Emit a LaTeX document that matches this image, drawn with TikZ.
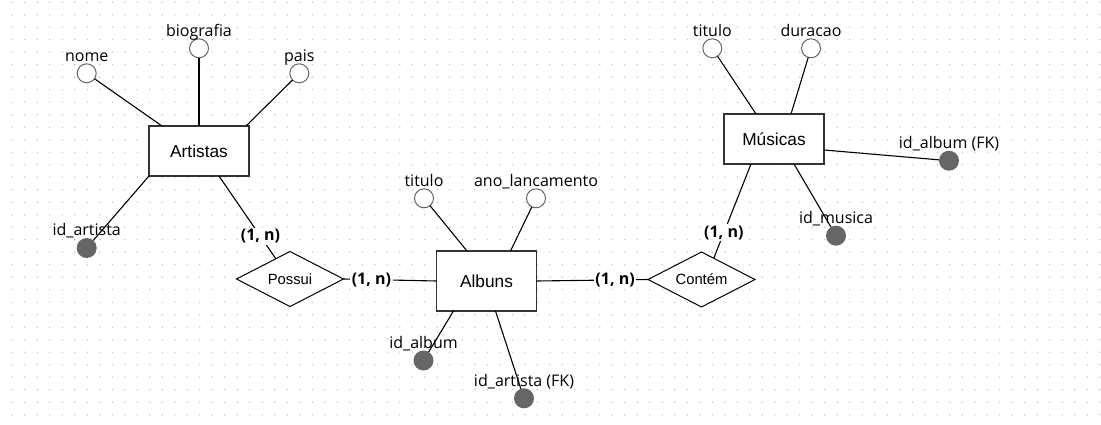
\documentclass[tikz,border=0pt]{standalone}
\usepackage{fontspec}
\usetikzlibrary{shapes.geometric}
\newfontfamily\attrfam{Open Sans}
\newfontfamily\entfam{Liberation Sans}
\newcommand{\attrfont}{\attrfam\fontsize{16}{19}\selectfont}
\newcommand{\cardfont}{\attrfam\bfseries\fontsize{16}{19}\selectfont}
\newcommand{\entfont}{\entfam\fontsize{17.3}{20}\selectfont}
\newcommand{\relfont}{\entfam\fontsize{14.8}{18}\selectfont}
\definecolor{entc}{HTML}{333333}
\definecolor{attrc}{HTML}{666666}
\definecolor{keyc}{HTML}{666666}
\definecolor{dotc}{HTML}{C4C4C4}
\tikzset{
  ent/.style={draw=entc, line width=1.3pt, fill=white, minimum width=100pt, minimum height=50pt, inner sep=0pt, outer sep=0pt, font=\entfont},
  rel/.style={diamond, draw=black, line width=1pt, fill=white, aspect=2, minimum width=107pt, minimum height=55pt, inner sep=0pt, outer sep=0pt, font=\relfont},
  lbl/.style={font=\attrfont, anchor=base, inner sep=0pt, text=black},
  attr/.style={circle, draw=attrc, line width=1pt, fill=white, minimum size=19pt, inner sep=0pt, outer sep=0pt, label={[lbl]above:#1}},
  keyattr/.style={circle, fill=keyc, minimum size=20pt, inner sep=0pt, outer sep=0pt, label={[lbl]above:#1}},
  card/.style={font=\cardfont, fill=white, inner sep=1.5pt},
  conn/.style={draw=black, line width=1.1pt}
}
\begin{document}
\begin{tikzpicture}[x=1pt, y=-1pt, label distance=2.2pt]
\useasboundingbox (0,0) rectangle (1101,424);
\fill[white] (0,0) rectangle (1101,424);
\foreach \i in {0,...,88} {\foreach \j in {0,...,33} {\fill[dotc] (12.3+12.5*\i, 2.2+12.5*\j) circle (0.8pt);}}

% Artistas
\node[ent] (artistas) at (199,151) {Artistas};
\node[attr=nome] (nome) at (86.7,73.3) {};
\node[attr=biografia] (bio) at (199,48.3) {};
\node[attr=pais] (pais) at (299.3,73.3) {};
\node[keyattr=id\_artista] (idartista) at (86.7,248) {};

% Possui
\node[rel] (possui) at (290,279) {Possui};

% Albuns
\node[ent, minimum height=60pt] (albuns) at (486.5,281) {Albuns};
\node[attr=titulo] (atitulo) at (424,198.3) {};
\node[attr=ano\_lancamento] (ano) at (536,198.3) {};
\node[keyattr=id\_album] (idalbum) at (423.5,360.5) {};
\node[keyattr=id\_artista (FK)] (idartfk) at (524,398.3) {};

% Contem
\node[rel] (contem) at (701.5,279.5) {Contém};

% Musicas
\node[ent] (musicas) at (774,139) {Músicas};
\node[attr=titulo] (mtitulo) at (712.3,48.3) {};
\node[attr=duracao] (duracao) at (811,48.3) {};
\node[keyattr=id\_album (FK)] (idalbfk) at (949,160.7) {};
\node[keyattr=id\_musica] (idmusica) at (836,235.7) {};

% connectors
\draw[conn] ([xshift=13pt]artistas.north west) -- (nome);
\draw[conn] (artistas.north) -- (bio);
\draw[conn] ([xshift=-3pt]artistas.north east) -- (pais);
\draw[conn] (artistas.south west) -- (idartista);
\draw[conn] ([xshift=20pt]artistas.south) -- node[card, pos=0.73]{(1, n)} (possui.125);

\draw[conn] (possui.east) -- node[card, pos=0.30]{(1, n)} (albuns.west);
\draw[conn] (albuns.east) -- node[card, pos=0.705]{(1, n)} (contem.west);
\draw[conn] (contem.60) -- node[card, pos=0.27]{(1, n)} ([xshift=-23pt]musicas.south);

\draw[conn] ([xshift=-19.5pt]albuns.north) -- (atitulo);
\draw[conn] ([xshift=24pt]albuns.north) -- (ano);
\draw[conn] ([xshift=-33pt]albuns.south) -- (idalbum);
\draw[conn] ([xshift=9pt]albuns.south) -- (idartfk);

\draw[conn] ([xshift=-18pt]musicas.north) -- (mtitulo);
\draw[conn] ([xshift=17pt]musicas.north) -- (duracao);
\draw[conn] ([yshift=-11pt]musicas.east) -- (idalbfk);
\draw[conn] ([xshift=20pt]musicas.south) -- (idmusica);
\end{tikzpicture}
\end{document}
